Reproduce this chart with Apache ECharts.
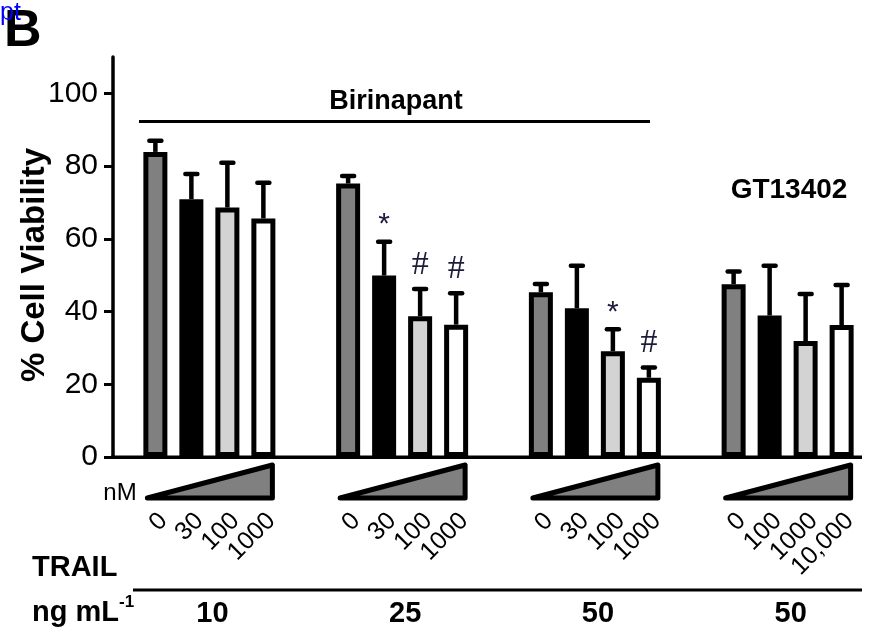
<!DOCTYPE html>
<html><head><meta charset="utf-8">
<script src="https://cdn.jsdelivr.net/npm/echarts@6/dist/echarts.min.js"></script>
<style>html,body{margin:0;padding:0;background:#fff}#c{width:894px;height:635px}</style>
</head><body><div id="c"></div>
<script>
// ---- data ----
const trailDoses = ['10', '25', '50', '50'];          // TRAIL ng/mL per group
const doseLabels = [                                  // drug concentration (nM) per bar
  ['0', '30', '100', '1000'],
  ['0', '30', '100', '1000'],
  ['0', '30', '100', '1000'],
  ['0', '100', '1000', '10,000']
];
const yTicks = [0, 20, 40, 60, 80, 100];
const dose0 = [83.9, 75.2, 45.3, 47.5];
const dose1 = [70.9, 49.9, 40.9, 38.9];
const dose2 = [68.6, 38.7, 29.1, 31.9];
const dose3 = [65.6, 36.4, 21.8, 36.3];
const err0 = [3.1, 2.1, 2.3, 3.5];
const err1 = [6.9, 9.3, 11.7, 13.7];
const err2 = [12.3, 7.5, 6.0, 12.9];
const err3 = [9.8, 8.6, 2.8, 11.0];
const sig0 = ['', '', '', ''];
const sig1 = ['', '*', '', ''];
const sig2 = ['', '#', '*', ''];
const sig3 = ['', '#', '#', ''];

const values = [dose0, dose1, dose2, dose3];
const errors = [err0, err1, err2, err3];
const sigs = [sig0, sig1, sig2, sig3];
const colors = ['#808080', '#000000', '#d3d3d3', '#ffffff'];

const FONT = 'Liberation Sans, Arial, Helvetica, sans-serif';
const BAR_W = 24, BAR_GAP = 12, BAR_STEP = BAR_W + BAR_GAP;

const errData = [], errSig = [];
for (let d = 0; d < 4; d++) for (let g = 0; g < 4; g++) {
  errData.push([g, d, values[d][g], errors[d][g]]);
  errSig.push(sigs[d][g]);
}

function renderErr(params, api) {
  const g = api.value(0), d = api.value(1), v = api.value(2), e = api.value(3);
  const base = api.coord([g, v]);
  const top = api.coord([g, v + e]);
  const x = base[0] + (d - 1.5) * BAR_STEP;
  const ch = [
    { type: 'line', shape: { x1: x, y1: base[1], x2: x, y2: top[1] }, style: { stroke: '#000', lineWidth: 4.5 } },
    { type: 'line', shape: { x1: x - 6, y1: top[1], x2: x + 6, y2: top[1] }, style: { stroke: '#000', lineWidth: 4.5, lineCap: 'round' } }
  ];
  const s = errSig[params.dataIndex];
  if (s) {
    const star = s === '*';
    ch.push({ type: 'text', x: x, y: top[1] - (star ? 17 : 24),
      style: { text: s, fill: '#1c1c3a', fontSize: star ? 30 : 34,
        fontFamily: star ? FONT : 'Liberation Serif, Times New Roman, serif',
        align: 'center', verticalAlign: 'middle' } });
  }
  return { type: 'group', children: ch };
}

function renderDecor(params, api) {
  const g = api.value(0);
  const p = api.coord([g, 0]);
  const cx = p[0], y0 = p[1];
  const ch = [{
    type: 'polygon',
    shape: { points: [[cx - 62, y0 + 41], [cx + 63, y0 + 8], [cx + 63, y0 + 41]] },
    style: { fill: '#808080', stroke: '#000', lineWidth: 5, lineJoin: 'round' }
  }];
  for (let d = 0; d < 4; d++) {
    ch.push({ type: 'text', x: cx + (d - 1.5) * BAR_STEP + 8, y: y0 + 60, rotation: Math.PI / 4,
      style: { text: doseLabels[g][d], x: 0, y: 0, fill: '#000', fontSize: 25, fontFamily: FONT,
        align: 'right', verticalAlign: 'middle' } });
  }
  ch.push({ type: 'text', x: cx + 3, y: y0 + 157,
    style: { text: trailDoses[g], fill: '#000', fontSize: 29, fontWeight: 'bold', fontFamily: FONT,
      align: 'center', verticalAlign: 'middle' } });
  return { type: 'group', children: ch };
}

const chart = echarts.init(document.getElementById('c'), null, { renderer: 'canvas' });
const barSeries = values.map((arr, d) => ({
  type: 'bar', name: 'd' + d, data: arr, barWidth: BAR_W, barGap: (BAR_GAP / BAR_W * 100) + '%',
  itemStyle: { color: colors[d], borderColor: '#000', borderWidth: 5 }, z: 2, silent: true
}));

chart.setOption({
  animation: false,
  grid: { left: 113, width: 771, top: 57, bottom: 178 },
  xAxis: { type: 'category', data: trailDoses, axisLine: { show: false }, axisTick: { show: false }, axisLabel: { show: false } },
  yAxis: {
    type: 'value', min: 0, max: 110, interval: 20,
    splitLine: { show: false },
    axisLine: { show: true, lineStyle: { color: '#000', width: 3.5 } },
    axisTick: { show: true, length: 9, lineStyle: { color: '#000', width: 3 }, customValues: yTicks },
    axisLabel: { color: '#000', fontSize: 30, fontFamily: FONT, margin: 15, customValues: yTicks }
  },
  series: barSeries.concat([
    { type: 'custom', name: 'err', data: errData, renderItem: renderErr, z: 5, clip: false, silent: true },
    { type: 'custom', name: 'decor', data: trailDoses.map((t, i) => [i]), renderItem: renderDecor, z: 5, clip: false, silent: true }
  ]),
  graphic: [
    { type: 'line', shape: { x1: 111, y1: 457.3, x2: 862, y2: 457.3 }, style: { stroke: '#000', lineWidth: 3.5 }, z: 10 },
    { type: 'text', x: 4, y: 32, style: { text: 'B', fontSize: 52, fontWeight: 'bold', fontFamily: FONT, fill: '#000', align: 'left', verticalAlign: 'middle' } },
    { type: 'text', x: 0, y: 13, style: { text: 'pt', fontSize: 25, fontFamily: FONT, fill: '#0000ff', align: 'left', verticalAlign: 'middle' } },
    { type: 'text', x: 396, y: 102, style: { text: 'Birinapant', fontSize: 27, fontWeight: 'bold', fontFamily: FONT, fill: '#000', align: 'center', verticalAlign: 'middle' } },
    { type: 'line', shape: { x1: 139, y1: 121.5, x2: 650, y2: 121.5 }, style: { stroke: '#000', lineWidth: 3 } },
    { type: 'text', x: 789, y: 190, style: { text: 'GT13402', fontSize: 28, fontWeight: 'bold', fontFamily: FONT, fill: '#000', align: 'center', verticalAlign: 'middle' } },
    { type: 'text', x: 35, y: 265, rotation: Math.PI / 2, style: { text: '% Cell Viability', fontSize: 33, fontWeight: 'bold', fontFamily: FONT, fill: '#000', align: 'center', verticalAlign: 'middle' } },
    { type: 'text', x: 120, y: 493, style: { text: 'nM', fontSize: 24, fontFamily: FONT, fill: '#000', align: 'center', verticalAlign: 'middle' } },
    { type: 'text', x: 32, y: 568, style: { text: 'TRAIL', fontSize: 29, fontWeight: 'bold', fontFamily: FONT, fill: '#000', align: 'left', verticalAlign: 'middle' } },
    { type: 'line', shape: { x1: 133, y1: 590, x2: 862, y2: 590 }, style: { stroke: '#000', lineWidth: 3 } },
    { type: 'text', x: 32, y: 613, style: { text: 'ng mL', fontSize: 29, fontWeight: 'bold', fontFamily: FONT, fill: '#000', align: 'left', verticalAlign: 'middle' } },
    { type: 'text', x: 119, y: 602, style: { text: '-1', fontSize: 17, fontWeight: 'bold', fontFamily: FONT, fill: '#000', align: 'left', verticalAlign: 'middle' } }
  ]
});
</script>
</body></html>
